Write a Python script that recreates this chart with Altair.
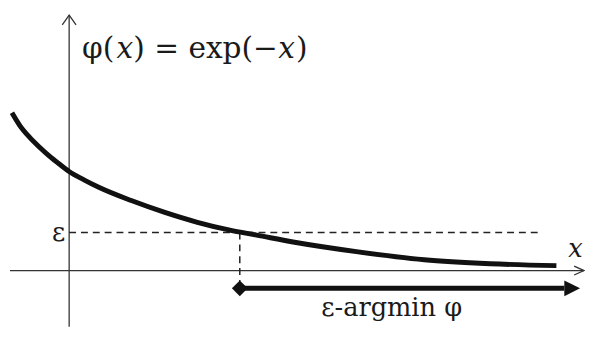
import altair as alt
import pandas as pd

# curve
curve_x = [-0.58, -0.50, -0.40, -0.30, -0.20, -0.10, 0.0, 0.15, 0.30, 0.63, 0.97, 1.30, 1.63, 1.90, 2.27, 2.93, 3.60, 4.27, 4.94]
curve_y = [1.60, 1.47, 1.35, 1.25, 1.16, 1.08, 1.005, 0.92, 0.845, 0.71, 0.59, 0.49, 0.41, 0.36, 0.29, 0.19, 0.11, 0.07, 0.05]

eps = 0.385
x_eps = 1.73
eps_line_end = 4.77
vdash_bottom = -0.11

arrow_y = -0.18
arrow_base = 5.02
arrow_head_center = 5.10

x_axis_span = [-0.60, 5.22]
y_axis_span = [-0.57, 2.59]
x_dom = [-0.62, 5.23]
y_dom = [-0.57, 2.64]

x_chev_x = [5.12, 5.22, 5.12]
x_chev_y = [0.045, 0.0, -0.045]
y_chev_x = [-0.07, 0.0, 0.07]
y_chev_y = [2.49, 2.59, 2.49]

title_pieces = ["φ(", "x", ") = exp(−", "x", ")"]
title_x = [0.13, 0.48, 0.65, 2.12, 2.30]
title_italic = [False, True, False, True, False]
title_y = 2.16

eps_label = "ε"
x_label = "x"
x_label_pos = [5.06, 0.14]
range_label = "ε-argmin φ"
range_label_pos = [3.27, -0.46]

FONT = "DejaVu Serif"
FS = 26
FS_TITLE = 30
INK = "#111111"
AXIS = "#333333"
TXT = "#1a1a1a"

X = lambda f="x": alt.X(f"{f}:Q", scale=alt.Scale(domain=x_dom, nice=False, zero=False), axis=None)
Y = lambda f="y": alt.Y(f"{f}:Q", scale=alt.Scale(domain=y_dom, nice=False, zero=False), axis=None)

axes_df = pd.DataFrame({
    "x": [x_axis_span[0], 0.0],
    "x2": [x_axis_span[1], 0.0],
    "y": [0.0, y_axis_span[0]],
    "y2": [0.0, y_axis_span[1]],
})
axes = alt.Chart(axes_df).mark_rule(color=AXIS, strokeWidth=1.3).encode(
    x=X(), x2="x2:Q", y=Y(), y2="y2:Q")

chev_df = pd.DataFrame({
    "x": x_chev_x + y_chev_x,
    "y": x_chev_y + y_chev_y,
    "g": ["xa"] * 3 + ["ya"] * 3,
    "o": [0, 1, 2, 0, 1, 2],
})
chev = alt.Chart(chev_df).mark_line(color=AXIS, strokeWidth=1.3).encode(
    x=X(), y=Y(), detail="g:N", order="o:Q")

dash_df = pd.DataFrame({
    "x": [0.0, x_eps],
    "x2": [eps_line_end, x_eps],
    "y": [eps, eps],
    "y2": [eps, vdash_bottom],
})
dashes = alt.Chart(dash_df).mark_rule(color="#222222", strokeWidth=1.5, strokeDash=[7, 5]).encode(
    x=X(), x2="x2:Q", y=Y(), y2="y2:Q")

curve_df = pd.DataFrame({"x": curve_x, "y": curve_y})
curve = alt.Chart(curve_df).mark_line(color=INK, strokeWidth=5, interpolate="monotone", strokeCap="butt").encode(
    x=X(), y=Y())

arr_df = pd.DataFrame({"x": [x_eps], "x2": [arrow_base], "y": [arrow_y]})
arr_line = alt.Chart(arr_df).mark_rule(color=INK, strokeWidth=5).encode(x=X(), x2="x2:Q", y=Y())

dia_df = pd.DataFrame({"x": [x_eps], "y": [arrow_y]})
diamond = alt.Chart(dia_df).mark_point(shape="diamond", size=256, filled=True, color=INK, opacity=1).encode(
    x=X(), y=Y())

head_df = pd.DataFrame({"x": [arrow_head_center], "y": [arrow_y]})
head = alt.Chart(head_df).mark_point(shape="M -1 -1 L 1 0 L -1 1 Z", size=256, filled=True, color=INK, opacity=1).encode(
    x=X(), y=Y())

title_df = pd.DataFrame({"t": title_pieces, "x": title_x, "y": [title_y] * len(title_pieces), "it": title_italic})
title_up = alt.Chart(title_df[~title_df["it"]]).mark_text(
    font=FONT, fontSize=FS_TITLE, align="left", baseline="alphabetic", color=TXT).encode(
    x=X(), y=Y(), text="t:N")
title_it = alt.Chart(title_df[title_df["it"]]).mark_text(
    font=FONT, fontSize=FS_TITLE, fontStyle="italic", align="left", baseline="alphabetic", color=TXT).encode(
    x=X(), y=Y(), text="t:N")

eps_df = pd.DataFrame({"t": [eps_label], "x": [-0.04], "y": [eps]})
eps_txt = alt.Chart(eps_df).mark_text(font=FONT, fontSize=FS, align="right", baseline="middle", color=TXT).encode(
    x=X(), y=Y(), text="t:N")

xl_df = pd.DataFrame({"t": [x_label], "x": [x_label_pos[0]], "y": [x_label_pos[1]]})
xl_txt = alt.Chart(xl_df).mark_text(font=FONT, fontSize=FS, fontStyle="italic", align="left", baseline="alphabetic", color=TXT).encode(
    x=X(), y=Y(), text="t:N")

rl_df = pd.DataFrame({"t": [range_label], "x": [range_label_pos[0]], "y": [range_label_pos[1]]})
rl_txt = alt.Chart(rl_df).mark_text(font=FONT, fontSize=FS, align="center", baseline="alphabetic", color=TXT).encode(
    x=X(), y=Y(), text="t:N")

chart = alt.layer(
    axes, chev, dashes, curve, arr_line, diamond, head,
    title_up, title_it, eps_txt, xl_txt, rl_txt
).properties(
    width=585, height=321, padding=0, autosize="none"
).configure_view(stroke=None)

chart.save("out.html", embed_options={"renderer": "svg", "actions": False})
